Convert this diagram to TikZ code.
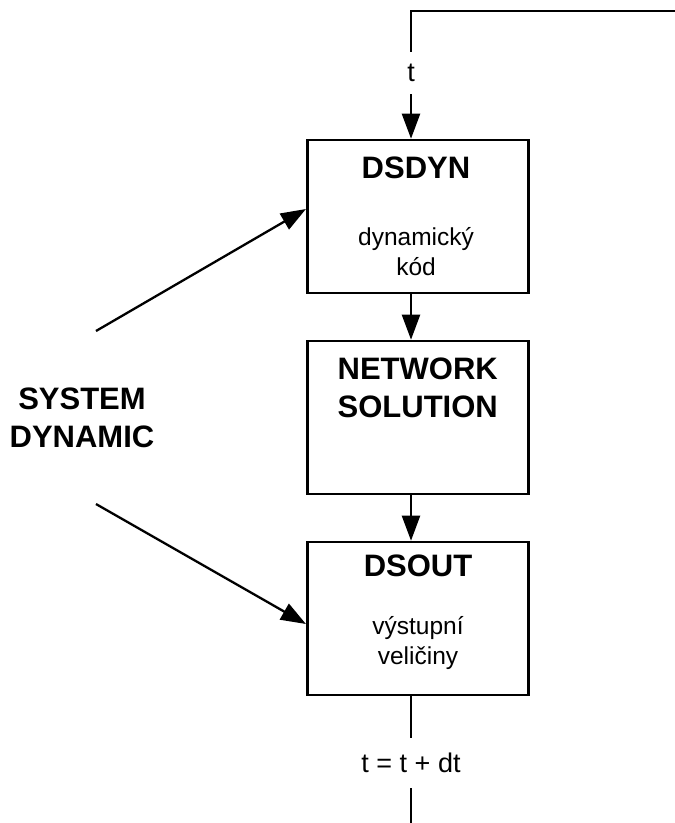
\documentclass[tikz,border=0pt]{standalone}
\usepackage{fontspec}
\setmainfont{Liberation Sans}
\usetikzlibrary{arrows.meta,calc}
\begin{document}
\begin{tikzpicture}[x=1pt,y=-1pt,
  line width=2.3pt,
  box/.style={draw,line width=2.6pt,minimum width=221pt,minimum height=153pt,inner sep=0pt},
  title/.style={font=\fontsize{31}{38}\selectfont\bfseries,align=center,inner sep=0pt},
  body/.style={font=\fontsize{24.5}{30}\selectfont,align=center,inner sep=0pt},
  lbl/.style={font=\fontsize{27}{32}\selectfont,inner sep=0pt},
  arr/.style={-{Triangle[length=25pt,width=18pt]}}]
\useasboundingbox (0,0) rectangle (675,823);
% boxes
\node[box] (dsdyn) at (417.75,216.5) {};
\node[box] (net) at (417.75,417.5) {};
\node[box] (dsout) at (417.75,618.5) {};
% texts in boxes
\node[title] (t1) at (416,167.5) {DSDYN};
\node[body] (b1) at (416,252) {dynamický\\kód};
\node[title] (t2) at (417.75,387.5) {NETWORK\\SOLUTION};
\node[title] (t3) at (418,565.5) {DSOUT};
\node[body] (b3) at (418,643) {výstupní\\veličiny};
% system dynamic
\node[title] (sd) at (82,418) {SYSTEM\\DYNAMIC};
% labels on the loop
\node[lbl,minimum height=40pt] (tl) at (411,73) {t};
\node[lbl,minimum height=48pt] (dtl) at (411,763) {t = t + dt};
\coordinate (tr) at (675,11);
\coordinate (bot) at (411,823);
\coordinate (u0) at (96,331);
\coordinate (l0) at (96,504);
% connectors
\draw (tr) -| (tl.north);
\draw[arr] (tl.south) -- (dsdyn.north -| tl.south);
\draw[arr] (dsdyn.south -| tl.south) -- (net.north -| tl.south);
\draw[arr] (net.south -| tl.south) -- (dsout.north -| tl.south);
\draw (dsout.south -| tl.south) -- (dtl.north);
\draw (dtl.south) -- (bot);
\draw[arr] (u0) -- (dsdyn.west |- 0,209);
\draw[arr] (l0) -- (dsout.west |- 0,624);
\end{tikzpicture}
\end{document}
